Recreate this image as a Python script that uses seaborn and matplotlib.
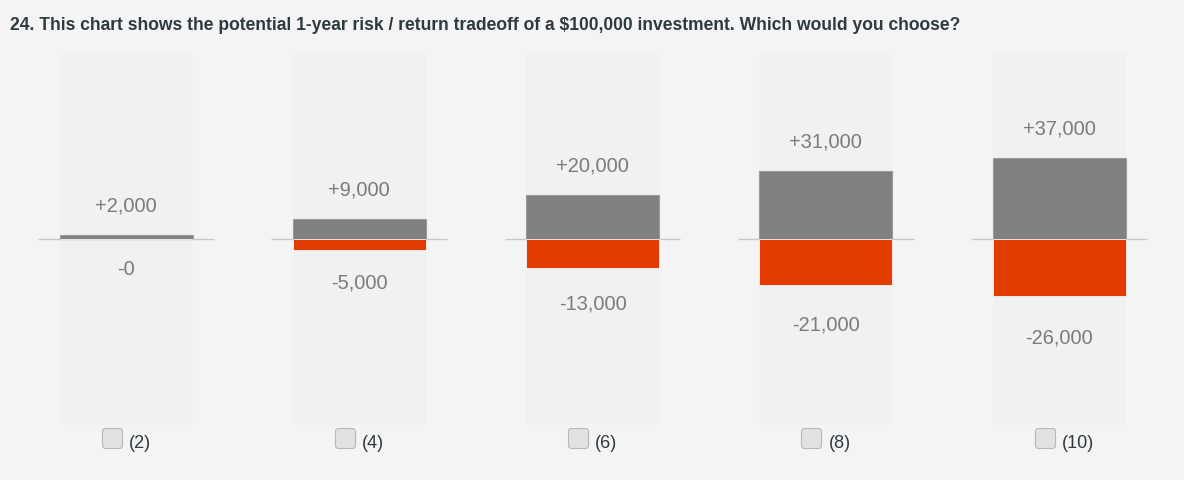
import matplotlib
matplotlib.use("Agg")
import matplotlib.pyplot as plt
import matplotlib.transforms as mtransforms
from matplotlib.patches import BoxStyle
import seaborn as sns

# values in dollars (thousands)
options = ["(2)", "(4)", "(6)", "(8)", "(10)"]
gains = [2, 9, 20, 31, 37]
losses = [0, 5, 13, 21, 26]
gain_labels = ["+2,000", "+9,000", "+20,000", "+31,000", "+37,000"]
loss_labels = ["-0", "-5,000", "-13,000", "-21,000", "-26,000"]
title = ("24. This chart shows the potential 1-year risk / return tradeoff "
         "of a $100,000 investment. Which would you choose?")

BG = "#f4f4f4"
PANEL = "#f1f1f1"
GRAY = "#808080"
RED = "#e33c00"
TEXT = "#7b7b7b"
DARK = "#2d3a40"

sns.set_theme(style="white")
plt.rcParams["font.family"] = ["Liberation Sans", "DejaVu Sans"]

fig = plt.figure(figsize=(11.84, 4.81), dpi=100, facecolor=BG)
ax = fig.add_axes([9.4 / 1184, 55 / 481, 1166.25 / 1184, 372 / 481])
ax.set_facecolor(BG)

bar_w = 0.57
ylim = 84.5

# background panels and baselines
for i in range(len(options)):
    ax.axvspan(i - bar_w / 2, i + bar_w / 2, color=PANEL, zorder=0, lw=0)
    ax.hlines(0, i - 0.377, i + 0.377, color="#c8c8c8", lw=1, zorder=1)

sns.barplot(x=options, y=gains, color=GRAY, width=bar_w, ax=ax,
            edgecolor="#9a9a9a", linewidth=0.8, saturation=1, zorder=2)
sns.barplot(x=options, y=[-v for v in losses], color=RED, width=bar_w, ax=ax,
            edgecolor=BG, linewidth=0.6, saturation=1, zorder=2)

# value labels
for i, (g, l) in enumerate(zip(gains, losses)):
    ax.annotate(gain_labels[i], (i, g), xytext=(0, 30 * 0.72),
                textcoords="offset points", ha="center", va="center",
                fontsize=14.4, color=TEXT)
    ax.annotate(loss_labels[i], (i, -l), xytext=(0, -(30 + 0.4 * l) * 0.72),
                textcoords="offset points", ha="center", va="center",
                fontsize=14.4, color=TEXT)

# checkboxes under each panel (rounded square marker)
box_marker = BoxStyle("Round", pad=0, rounding_size=0.15)(-0.5, -0.5, 1, 1, 1.0)
trans = mtransforms.blended_transform_factory(ax.transData, ax.transAxes)
xs = list(range(len(options)))
ax.scatter([x - 0.062 for x in xs], [-0.036] * len(xs), marker=box_marker,
           s=14.4 ** 2, facecolor="#e2e2e2", edgecolor="#b8b8b8", linewidth=0.8,
           transform=trans, clip_on=False, zorder=3)
for x, lab in zip(xs, options):
    ax.text(x + 0.012, -0.046, lab, transform=trans, ha="left", va="center",
            fontsize=13, color=DARK)

ax.set_xlim(-0.5, len(options) - 0.5)
ax.set_ylim(-ylim, ylim)
ax.set_xticks([])
ax.set_yticks([])
ax.set_xlabel("")
ax.set_ylabel("")
sns.despine(ax=ax, left=True, bottom=True)

t = fig.text(10 / 1184, 1 - 25.5 / 481, title, ha="left", va="center",
             fontsize=12, fontweight="bold", color=DARK)
fig.canvas.draw()
w = t.get_window_extent().width
t.set_fontsize(12 * 948 / w)

fig.savefig("out.png", dpi=100, facecolor=BG)
